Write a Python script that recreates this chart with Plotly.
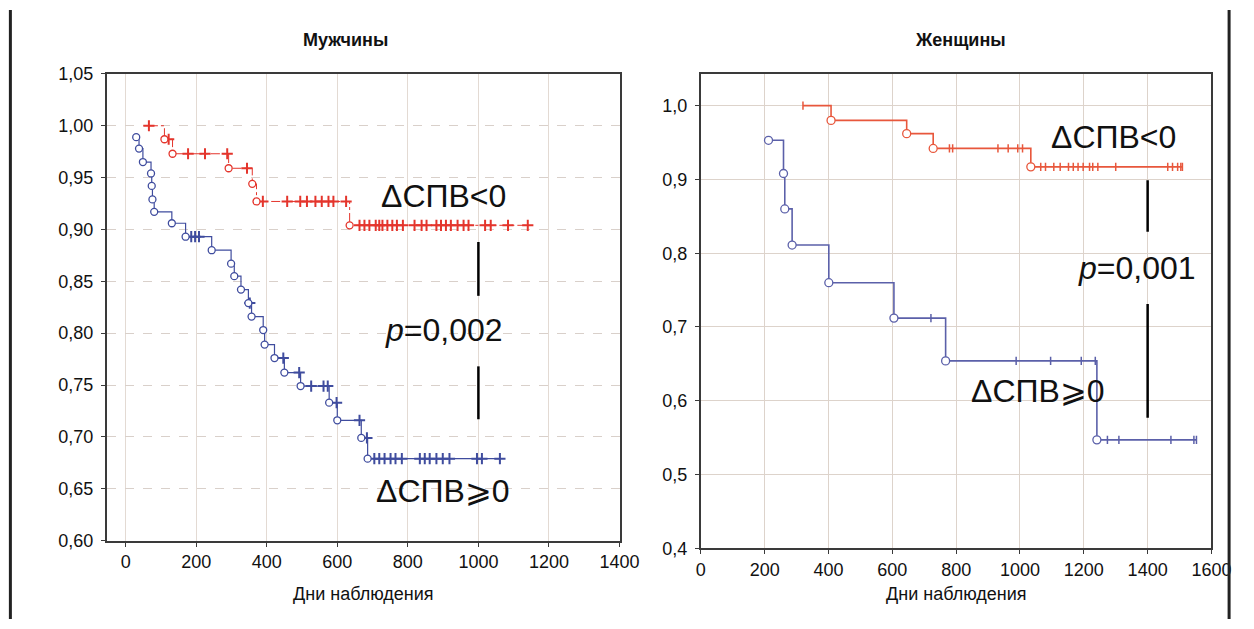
import plotly.graph_objects as go

W, H = 1254, 629

# ---------------- DATA ----------------
# Men, ΔСПВ<0 (red)
men_neg_event_t = [110, 133, 292, 359, 371, 635]
men_neg_event_s = [0.987, 0.973, 0.959, 0.944, 0.927, 0.904]
men_neg_cens_t = [66, 122, 177, 225, 288, 344, 389, 458, 495, 514, 538, 556, 575, 589, 625,
                  663, 677, 691, 709, 719, 728, 742, 756, 769, 786, 819, 839, 853, 881, 894,
                  908, 922, 941, 958, 972, 1019, 1035, 1084, 1140]

# Men, ΔСПВ≥0 (blue)
men_pos_event_t = [30, 38, 49, 72, 74, 76, 81, 131, 170, 244, 299, 308, 327, 348, 357, 390,
                   394, 422, 450, 496, 577, 600, 668, 686]
men_pos_event_s = [0.989, 0.978, 0.965, 0.954, 0.942, 0.929, 0.917, 0.906, 0.893, 0.880,
                   0.867, 0.855, 0.842, 0.829, 0.816, 0.803, 0.789, 0.776, 0.762, 0.749,
                   0.733, 0.716, 0.699, 0.679]
men_pos_cens_t = [186, 197, 208, 352, 447, 492, 526, 561, 573, 598, 663, 684,
                  705, 719, 734, 751, 765, 783, 834, 848, 862, 881, 899, 918, 996, 1010, 1061]

# Women, ΔСПВ<0 (red)
wom_neg_event_t = [408, 645, 728, 1034]
wom_neg_event_s = [0.980, 0.962, 0.942, 0.917]
wom_neg_cens_t = [320, 779, 789, 931, 963, 993, 1008, 1065, 1080, 1106, 1126, 1152, 1167,
                  1182, 1198, 1218, 1228, 1244, 1300, 1463, 1478, 1494, 1504, 1509]

# Women, ΔСПВ≥0 (blue)
wom_pos_event_t = [212, 259, 263, 286, 401, 605, 767, 1241]
wom_pos_event_s = [0.953, 0.908, 0.860, 0.811, 0.760, 0.712, 0.654, 0.547]
wom_pos_cens_t = [721, 988, 1096, 1192, 1236, 1274, 1310, 1473, 1545, 1553]

# p-value bars (x, y0, y1)
men_pbar_x = 1000
men_pbar_segments = [(0.888, 0.836), (0.768, 0.717)]
wom_pbar_x = 1400
wom_pbar_segments = [(0.899, 0.829), (0.731, 0.577)]

men_yticks = [0.60, 0.65, 0.70, 0.75, 0.80, 0.85, 0.90, 0.95, 1.00, 1.05]
men_yticktext = ["0,60", "0,65", "0,70", "0,75", "0,80", "0,85", "0,90", "0,95", "1,00", "1,05"]
wom_yticks = [0.4, 0.5, 0.6, 0.7, 0.8, 0.9, 1.0]
wom_yticktext = ["0,4", "0,5", "0,6", "0,7", "0,8", "0,9", "1,0"]
men_xticks = [0, 200, 400, 600, 800, 1000, 1200, 1400]
wom_xticks = [0, 200, 400, 600, 800, 1000, 1200, 1400, 1600]

# ---------------- HELPERS ----------------
def level_at(t, ev_t, ev_s):
    s = 1.0
    for et, es in zip(ev_t, ev_s):
        if et <= t:
            s = es
    return s

def step_line(ev_t, ev_s, cens_t):
    times = sorted(set(list(ev_t) + list(cens_t)))
    ys = [level_at(t, ev_t, ev_s) for t in times]
    return times, ys

def px(x):
    return x / W

def py(y):
    return 1 - y / H

FONT = "Liberation Sans, Arial, sans-serif"
RED_M = "#e4352c"
BLUE_M = "#3f4c9e"
RED_W = "#e8573c"
BLUE_W = "#5b60a9"

fig = go.Figure()

def add_group(ev_t, ev_s, cens_t, color, dash, xa, ya, cens_symbol, cens_size, cens_w, circ_size, lw):
    lx, ly = step_line(ev_t, ev_s, cens_t)
    fig.add_trace(go.Scatter(x=lx, y=ly, mode="lines", line=dict(color=color, width=lw, dash=dash, shape="hv"),
                             xaxis=xa, yaxis=ya, hoverinfo="skip", showlegend=False))
    cy = [level_at(t, ev_t, ev_s) for t in cens_t]
    fig.add_trace(go.Scatter(x=cens_t, y=cy, mode="markers",
                             marker=dict(symbol=cens_symbol, size=cens_size, color=color,
                                         line=dict(color=color, width=cens_w)),
                             xaxis=xa, yaxis=ya, showlegend=False))
    fig.add_trace(go.Scatter(x=ev_t, y=ev_s, mode="markers",
                             marker=dict(symbol="circle", size=circ_size, color="white",
                                         line=dict(color=color, width=1.3)),
                             xaxis=xa, yaxis=ya, showlegend=False))

add_group(men_neg_event_t, men_neg_event_s, men_neg_cens_t, RED_M, "dashdot", "x", "y",
          "cross-thin", 8, 2, 7, 1)
add_group(men_pos_event_t, men_pos_event_s, men_pos_cens_t, BLUE_M, "solid", "x", "y",
          "cross-thin", 8, 2, 7, 1.2)
add_group(wom_neg_event_t, wom_neg_event_s, wom_neg_cens_t, RED_W, "solid", "x2", "y2",
          "line-ns", 6, 1.5, 8, 1.6)
add_group(wom_pos_event_t, wom_pos_event_s, wom_pos_cens_t, BLUE_W, "solid", "x2", "y2",
          "line-ns", 6, 1.5, 8, 1.6)

shapes = []
for y0, y1 in men_pbar_segments:
    shapes.append(dict(type="line", xref="x", yref="y", x0=men_pbar_x, x1=men_pbar_x, y0=y0, y1=y1,
                       line=dict(color="black", width=2.5)))
for y0, y1 in wom_pbar_segments:
    shapes.append(dict(type="line", xref="x2", yref="y2", x0=wom_pbar_x, x1=wom_pbar_x, y0=y0, y1=y1,
                       line=dict(color="black", width=2.5)))
# outer border lines
shapes.append(dict(type="line", xref="paper", yref="paper", x0=px(5.5), x1=px(5.5), y0=0, y1=1,
                   line=dict(color="#222", width=3)))
shapes.append(dict(type="line", xref="paper", yref="paper", x0=px(1249), x1=px(1249), y0=0, y1=1,
                   line=dict(color="#222", width=3)))

def ann(text, x, y, size, bold=False):
    return dict(text=f"<b>{text}</b>" if bold else text, x=px(x), y=py(y), xref="paper", yref="paper",
                showarrow=False, xanchor="center", yanchor="middle",
                font=dict(family=FONT, size=size, color="#111"))

annotations = [
    ann("Мужчины", 347, 31, 18, bold=True),
    ann("Женщины", 975, 31, 18, bold=True),
    ann("Дни наблюдения", 366, 603, 18),
    ann("Дни наблюдения", 971, 603, 18),
    ann("ΔСПВ&lt;0", 447, 192, 32),
    ann("<i>p</i>=0,002", 448, 331, 32),
    ann("ΔСПВ⩾0", 447, 497, 32),
    ann("ΔСПВ&lt;0", 1131, 131, 32),
    ann("<i>p</i>=0,001", 1155, 266, 32),
    ann("ΔСПВ⩾0", 1054, 394, 32),
]

axis_common = dict(showline=True, linecolor="#3a3a3a", linewidth=2, mirror=True,
                   ticks="outside", ticklen=4, tickcolor="#3a3a3a",
                   tickfont=dict(family=FONT, size=18, color="#111"), zeroline=False,
                   showgrid=True)

fig.update_layout(
    width=W, height=H, margin=dict(l=0, r=0, t=0, b=0),
    paper_bgcolor="white", plot_bgcolor="white",
    showlegend=False,
    shapes=shapes, annotations=annotations,
    xaxis=dict(domain=[px(104), px(627)], range=[-53, 1400], tickvals=men_xticks,
               gridcolor="#e3dad3", griddash="solid", anchor="y", **axis_common),
    yaxis=dict(domain=[py(548), py(66)], range=[0.60, 1.05], tickvals=men_yticks,
               ticktext=men_yticktext, gridcolor="#d9d0ca", griddash="dash", anchor="x",
               ticklabelstandoff=4, **axis_common),
    xaxis2=dict(domain=[px(710), px(1231)], range=[0, 1600], tickvals=wom_xticks,
                gridcolor="#ddd3cb", anchor="y2", **axis_common),
    yaxis2=dict(domain=[py(556), py(66)], range=[0.4, 1.043], tickvals=wom_yticks,
                ticktext=wom_yticktext, gridcolor="#ddd3cb", anchor="x2",
                ticklabelstandoff=4, **axis_common),
)

fig.write_html("out.html",
               config={"displayModeBar": False},
               post_script="document.body.style.margin='0';document.body.style.overflow='hidden';")
